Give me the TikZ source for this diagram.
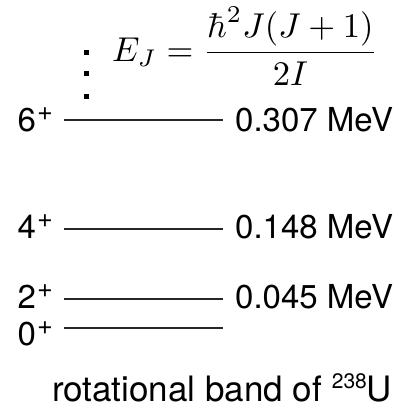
\documentclass[tikz,border=0pt]{standalone}
\usepackage{graphicx}
\usepackage[no-math]{fontspec}
\newfontfamily\hv{TeX Gyre Heros}
\newcommand\plussup{\kern1pt\raisebox{11pt}{\fontsize{27}{27}\selectfont +}}
\begin{document}
\begin{tikzpicture}[x=1pt,y=-1pt,
  level/.style={line width=2.2pt,draw=black!85},
  lbl/.style={font=\hv\fontsize{33}{38}\selectfont,inner sep=0pt},
  dotsq/.style={fill=black,minimum size=5pt,inner sep=0pt}]
\useasboundingbox (0,0) rectangle (414,408);
% level end points
\foreach \n/\y in {6/120,4/229,2/299,0/328}{
  \coordinate (a\n) at (64,\y);
  \coordinate (b\n) at (223,\y);
  \draw[level] (a\n) -- (b\n);
}
% spin labels
\node[lbl,anchor=base east] (s6) at (53,131) {6\plussup};
\node[lbl,anchor=base east] (s4) at (53,238) {4\plussup};
\node[lbl,anchor=base east] (s2) at (53,308) {2\plussup};
\node[lbl,anchor=base east] (s0) at (53,345) {0\plussup};
% energies
\node[lbl,anchor=base west] (e6) at (235,131) {0.307 MeV};
\node[lbl,anchor=base west] (e4) at (235,238) {0.148 MeV};
\node[lbl,anchor=base west] (e2) at (235,308) {0.045 MeV};
% dots
\node[dotsq] (d1) at (86,52) {};
\node[dotsq] (d2) at (86,73) {};
\node[dotsq] (d3) at (86,96) {};
% formula
\node[anchor=west,inner sep=0pt] (f) at (112,46)
  {\scalebox{3.45}{$\displaystyle E_J=\frac{\hbar^2J(J+1)}{2I}$}};
% caption
\node[lbl,font=\hv\fontsize{35}{40}\selectfont,anchor=base west] (cap) at (52,401)
  {rotational band of \raisebox{13pt}{\fontsize{21}{21}\selectfont 238}U};
\end{tikzpicture}
\end{document}
